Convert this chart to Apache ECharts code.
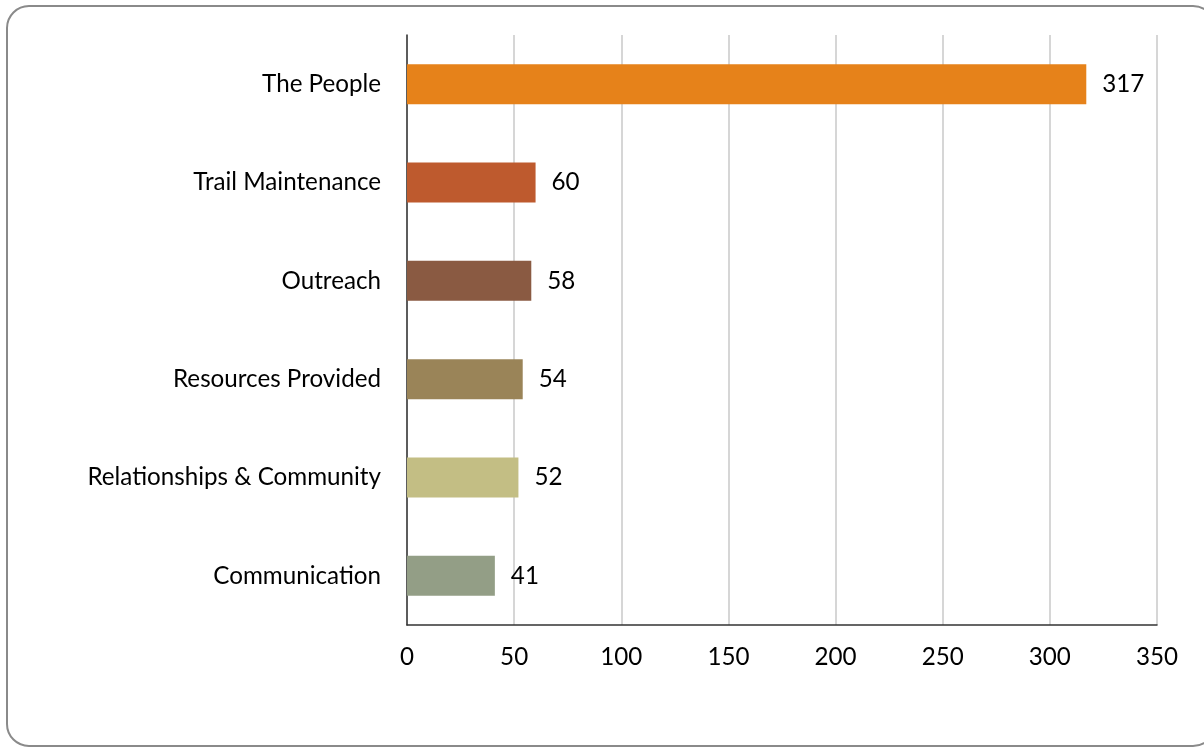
<!DOCTYPE html>
<html><head><meta charset="utf-8">
<script src="https://cdn.jsdelivr.net/npm/echarts@6/dist/echarts.min.js"></script>
<style>html,body{margin:0;padding:0;background:#fff}#c{width:1204px;height:748px}</style>
</head><body><div id="c"></div>
<script>
const categories = ['The People','Trail Maintenance','Outreach','Resources Provided','Relationships & Community','Communication'];
const values = [317, 60, 58, 54, 52, 41];
const colors = ['#E6821A','#BE5A2E','#8A5A42','#9A8458','#C3BE84','#939E86'];
const xTicks = [0,50,100,150,200,250,300,350];

const chart = echarts.init(document.getElementById('c'));
const font = 'Lato, "Open Sans", sans-serif';
const fs = 24.2;
chart.setOption({
  animation:false,
  graphic:[{type:'rect',shape:{x:7,y:6,width:1208,height:740,r:22},style:{fill:'none',stroke:'#8a8a8a',lineWidth:2}}],
  grid:{left:407,right:47,top:35,bottom:123,containLabel:false},
  xAxis:{type:'value',min:0,max:350,interval:50,
    axisLine:{show:true,lineStyle:{color:'#333',width:1.5}},
    axisTick:{show:false},
    splitLine:{show:true,lineStyle:{color:'#c8c8c8',width:1.5}},
    axisLabel:{color:'#000',fontSize:fs,fontFamily:font,margin:20,
      formatter:v=>xTicks.includes(v)?String(v):''}},
  yAxis:{type:'category',inverse:true,data:categories,
    axisLine:{show:true,lineStyle:{color:'#333',width:1.5}},
    axisTick:{show:false},
    axisLabel:{color:'#000',fontSize:fs,fontFamily:font,margin:26}},
  series:[{type:'bar',barWidth:40,
    data:values.map((v,i)=>({value:v,itemStyle:{color:colors[i]}})),
    label:{show:true,position:'right',distance:16,color:'#000',fontSize:fs,fontFamily:font}}]
});
</script></body></html>
